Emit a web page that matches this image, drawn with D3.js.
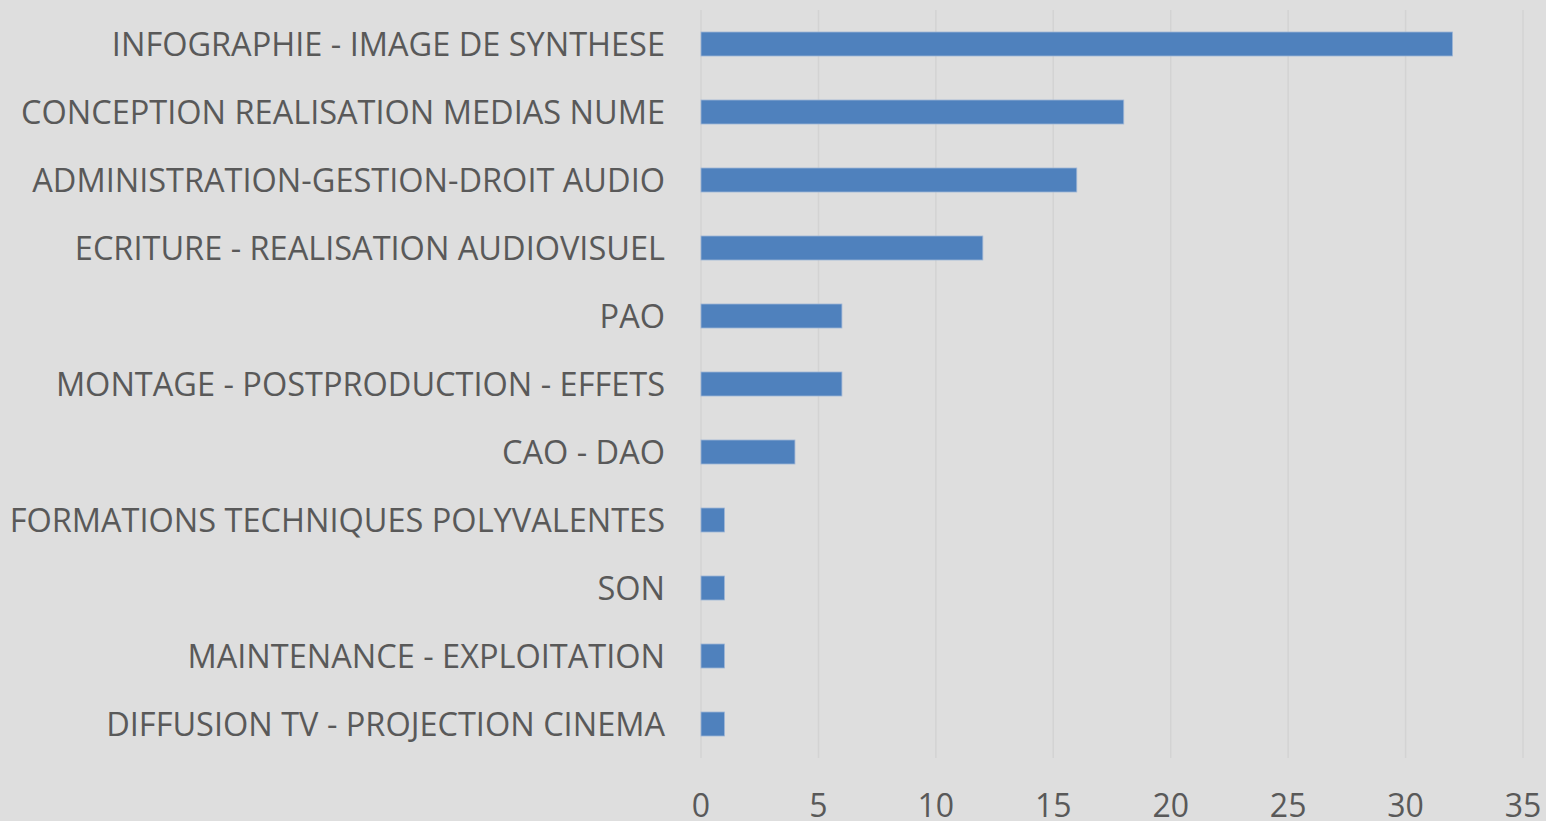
<!DOCTYPE html>
<html><head><meta charset="utf-8">
<script src="https://cdn.jsdelivr.net/npm/d3@7"></script>
<style>html,body{margin:0;padding:0;background:#dedede;overflow:hidden}</style>
</head><body>
<svg id="c" width="1546" height="821"></svg>
<script>
const categories = ["INFOGRAPHIE - IMAGE DE SYNTHESE","CONCEPTION REALISATION MEDIAS NUME","ADMINISTRATION-GESTION-DROIT AUDIO","ECRITURE - REALISATION AUDIOVISUEL","PAO","MONTAGE - POSTPRODUCTION - EFFETS","CAO - DAO","FORMATIONS TECHNIQUES POLYVALENTES","SON","MAINTENANCE - EXPLOITATION","DIFFUSION TV - PROJECTION CINEMA"];
const values = [32,18,16,12,6,6,4,1,1,1,1];
const tickValues = [0,5,10,15,20,25,30,35];

const svg = d3.select("#c");
svg.append("rect").attr("width",1546).attr("height",821).attr("fill","#dedede");
const x = d3.scaleLinear().domain([0,35]).range([701,1523]);
const y = d3.scaleBand().domain(categories).range([10,758]).paddingInner(0.647).paddingOuter(0.3235);
const font = "'Open Sans', sans-serif";
svg.append("g").selectAll("line").data(tickValues).join("line")
  .attr("x1",d=>x(d)).attr("x2",d=>x(d)).attr("y1",10).attr("y2",758)
  .attr("stroke","#d3d3d3").attr("stroke-width",1.5);
svg.append("g").selectAll("rect").data(values).join("rect")
  .attr("x",x(0)).attr("y",(d,i)=>y(categories[i]))
  .attr("width",d=>x(d)-x(0)).attr("height",y.bandwidth())
  .attr("fill","#4f81bd").attr("stroke","#9fb6d6").attr("stroke-width",0.8);
svg.append("g").selectAll("text").data(categories).join("text")
  .attr("x",665).attr("y",d=>y(d)+y.bandwidth()/2).attr("dy","0.36em")
  .attr("text-anchor","end").attr("fill","#595959")
  .style("font-family",font).style("font-size","32.5px").text(d=>d);
svg.append("g").selectAll("text").data(tickValues).join("text")
  .attr("x",d=>x(d)).attr("y",817)
  .attr("text-anchor","middle").attr("fill","#595959")
  .style("font-family",font).style("font-size","32px").text(d=>d);
</script>
</body></html>
